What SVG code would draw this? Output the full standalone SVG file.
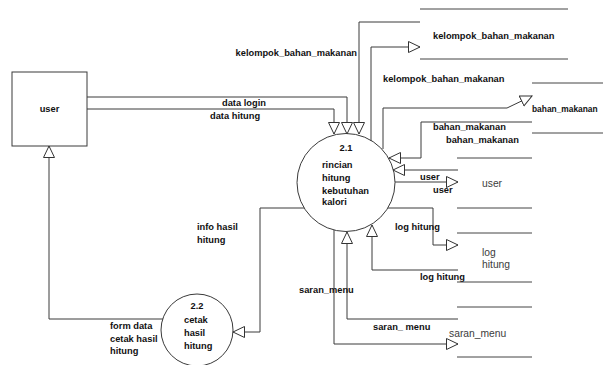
<svg xmlns="http://www.w3.org/2000/svg" width="603" height="365" viewBox="0 0 603 365">
<defs>
<marker id="arr" markerUnits="userSpaceOnUse" markerWidth="14" markerHeight="14" refX="12" refY="6" orient="auto" viewBox="0 0 14 14">
<path d="M0.5,0.5 L12,6 L0.5,11.5 Z" fill="#fff" stroke="#333" stroke-width="1"/>
</marker>
<style>
.ln{fill:none;stroke:#3a3a3a;stroke-width:1}
.st{fill:none;stroke:#444;stroke-width:1}
.b{font-family:"Liberation Sans",Arial,sans-serif;font-size:9.3px;font-weight:bold;fill:#111}
.r{font-family:"Liberation Sans",Arial,sans-serif;font-size:10.3px;fill:#3c3c3c}
.nd{fill:#fff;stroke:#3a3a3a;stroke-width:1}
</style>
</defs>
<rect width="603" height="365" fill="#fff"/>

<g id="connectors">
<path class="ln" d="M87,97 H347 V134" marker-end="url(#arr)"/>
<path class="ln" d="M87,109 H334 V134" marker-end="url(#arr)"/>
<path class="ln" d="M420,22 H359 V134" marker-end="url(#arr)"/>
<path class="ln" d="M371,141 V47 H420" marker-end="url(#arr)"/>
<path class="ln" d="M383,149 V108 H507 L532,96" marker-end="url(#arr)"/>
<path class="ln" d="M532,122 H421 V158 H389" marker-end="url(#arr)"/>
<path class="ln" d="M458,170 H393" marker-end="url(#arr)"/>
<path class="ln" d="M395,182 H458" marker-end="url(#arr)"/>
<path class="ln" d="M388,208 H433 V245 H458" marker-end="url(#arr)"/>
<path class="ln" d="M458,270 H372 V225" marker-end="url(#arr)"/>
<path class="ln" d="M458,319 H347 V232" marker-end="url(#arr)"/>
<path class="ln" d="M334,230 V344 H458" marker-end="url(#arr)"/>
<path class="ln" d="M304,208 H260 V332 H233" marker-end="url(#arr)"/>
<path class="ln" d="M163,319 H49 V146" marker-end="url(#arr)"/>
<text class="b" x="222" y="106">data login</text>
<text class="b" x="210" y="119">data hitung</text>
<text class="b" x="357" y="56" text-anchor="end">kelompok_bahan_makanan</text>
<text class="b" x="383" y="81.5">kelompok_bahan_makanan</text>
<text class="b" x="433" y="130">bahan_makanan</text>
<text class="b" x="446" y="143">bahan_makanan</text>
<text class="b" x="420" y="180">user</text>
<text class="b" x="433" y="193">user</text>
<text class="b" x="395" y="230">log hitung</text>
<text class="b" x="420" y="280">log hitung</text>
<text class="b" x="299" y="292.5">saran_menu</text>
<text class="b" x="373" y="330">saran_ menu</text>
<text class="b" x="197" y="229.5">info hasil</text>
<text class="b" x="197" y="242.5">hitung</text>
<text class="b" x="110" y="329">form data</text>
<text class="b" x="110" y="341.5">cetak hasil</text>
<text class="b" x="110" y="354">hitung</text>
</g>

<g id="user">
<rect class="nd" x="12" y="72" width="75" height="74"/>
<text class="b" x="49.5" y="112" text-anchor="middle">user</text>
</g>

<g id="p21">
<circle class="nd" cx="346" cy="182.5" r="49" style="fill:none"/>
<text class="b" x="346" y="150.5" text-anchor="middle">2.1</text>
<text class="b" x="322" y="167.5">rincian</text>
<text class="b" x="322" y="180.5">hitung</text>
<text class="b" x="322" y="193.5">kebutuhan</text>
<text class="b" x="322" y="205">kalori</text>
</g>

<g id="p22">
<circle class="nd" cx="197" cy="330" r="36" style="fill:none"/>
<text class="b" x="197" y="308.5" text-anchor="middle">2.2</text>
<text class="b" x="184" y="322.5">cetak</text>
<text class="b" x="184" y="335.5">hasil</text>
<text class="b" x="184" y="348.5">hitung</text>
</g>

<g id="store_kelompok">
<path class="st" d="M420,9 H568 M420,59 H568"/>
<text class="b" x="433" y="38.5">kelompok_bahan_makanan</text>
</g>
<g id="store_bahan">
<path class="st" d="M532,83 H603 M532,133 H603"/>
<text class="b" x="532" y="112" style="font-size:8.4px">bahan_makanan</text>
</g>
<g id="store_user">
<path class="st" d="M457,158 H532 M457,208 H532"/>
<text class="r" x="482" y="187">user</text>
</g>
<g id="store_log">
<path class="st" d="M457,233 H532 M457,282 H532"/>
<text class="r" x="482" y="255.5">log</text>
<text class="r" x="482" y="268">hitung</text>
</g>
<g id="store_saran">
<path class="st" d="M457,307 H532 M457,357 H532"/>
<text class="r" x="449" y="336.5">saran_menu</text>
</g>
</svg>
